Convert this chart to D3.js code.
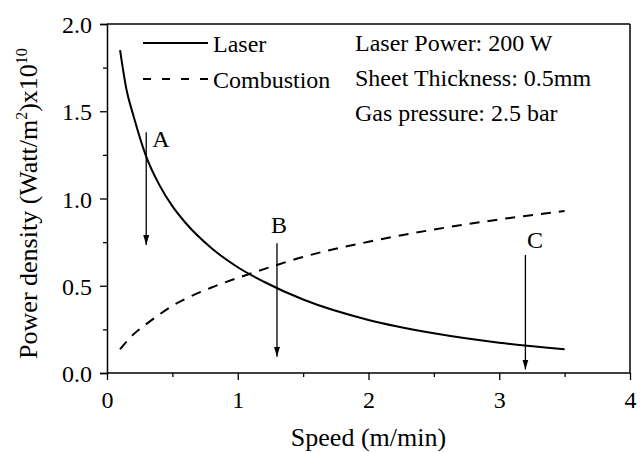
<!DOCTYPE html>
<html><head><meta charset="utf-8">
<script src="https://cdn.jsdelivr.net/npm/d3@7"></script>
<style>
body{margin:0;background:#fff;}
svg text{font-family:"Liberation Serif","Tinos","Times New Roman",Times,"DejaVu Serif","Noto Serif",serif !important;fill:#000;}
</style></head>
<body><svg id="c" width="640" height="452"></svg>
<script>
const speed = [0.1,0.15,0.2,0.3,0.4,0.5,0.6,0.8,1.0,1.2,1.5,2.0,2.5,3.0,3.5];
const laser = [1.85,1.62,1.48,1.24,1.078,0.956,0.861,0.715,0.606,0.523,0.421,0.304,0.228,0.174,0.136];
const combustion = [0.136,0.18,0.22,0.28,0.335,0.385,0.425,0.49,0.545,0.595,0.665,0.752,0.822,0.88,0.928];
const xTicks = [0,1,2,3,4];
const yTicks = [0,0.5,1.0,1.5,2.0];
const arrowLabels = ["A","B","C"];
const arrowX = [0.3,1.3,3.2];
const arrowTop = [1.38,0.743,0.676];
const arrowBottom = [0.733,0.093,0.02];
const labelX = [0.413,1.315,3.274];
const labelY = [1.297,0.801,0.716];
const legendNames = ["Laser","Combustion"];
const infoLines = ["Laser Power: 200 W","Sheet Thickness: 0.5mm","Gas pressure: 2.5 bar"];

const svg = d3.select("#c");
const L=107,R=630,T=24,B=373;
const x = d3.scaleLinear().domain([0,4]).range([L,R]);
const y = d3.scaleLinear().domain([0,2]).range([B,T]);

// frame
svg.append("line").attr("x1",L).attr("x2",R).attr("y1",T).attr("y2",T).attr("stroke","#000").attr("stroke-width",1.5);
svg.append("line").attr("x1",R).attr("x2",R).attr("y1",T).attr("y2",B).attr("stroke","#000").attr("stroke-width",1.5);

// axes
const xAxis = svg.append("g").attr("transform",`translate(0,${B})`)
  .call(d3.axisBottom(x).tickValues(xTicks).tickFormat(d3.format("d")).tickSize(7).tickPadding(11));
const xMinor = svg.append("g").attr("transform",`translate(0,${B})`)
  .call(d3.axisBottom(x).tickValues([0.5,1.5,2.5,3.5]).tickFormat("").tickSize(4));
const yAxis = svg.append("g").attr("transform",`translate(${L},0)`)
  .call(d3.axisLeft(y).tickValues(yTicks).tickFormat(d3.format(".1f")).tickSize(7).tickPadding(8));
const yMinor = svg.append("g").attr("transform",`translate(${L},0)`)
  .call(d3.axisLeft(y).tickValues([0.25,0.75,1.25,1.75]).tickFormat("").tickSize(4));
[xAxis,xMinor,yAxis,yMinor].forEach(g=>{
  g.attr("font-family",null);
  g.selectAll("path").attr("stroke","#000").attr("stroke-width",1.5);
  g.selectAll("line").attr("stroke","#000").attr("stroke-width",1.3);
  g.selectAll("text").attr("font-size",24).attr("fill","#000");
});
xAxis.selectAll("path").remove();
xMinor.selectAll("path").remove();
yMinor.selectAll("path").remove();
svg.append("line").attr("x1",L).attr("x2",R).attr("y1",B).attr("y2",B).attr("stroke","#000").attr("stroke-width",1.5);
yAxis.selectAll("text").attr("dy","0.36em");

// axis titles
svg.append("text").attr("x",(L+R)/2).attr("y",446).attr("text-anchor","middle").attr("font-size",26).text("Speed (m/min)");
const yt = svg.append("text").attr("transform",`translate(37,${(T+B)/2+5}) rotate(-90)`).attr("text-anchor","middle").attr("font-size",26);
yt.append("tspan").text("Power density (Watt/m");
yt.append("tspan").attr("font-size",16).attr("dy",-10).text("2");
yt.append("tspan").attr("dy",10).text(")x10");
yt.append("tspan").attr("font-size",16).attr("dy",-10).text("10");

// curves
const line = d3.line().x(d=>x(d[0])).y(d=>y(d[1])).curve(d3.curveMonotoneX);
svg.append("path").datum(speed.map((s,i)=>[s,laser[i]])).attr("d",line)
  .attr("fill","none").attr("stroke","#000").attr("stroke-width",2);
svg.append("path").datum(speed.map((s,i)=>[s,combustion[i]])).attr("d",line)
  .attr("fill","none").attr("stroke","#000").attr("stroke-width",2).attr("stroke-dasharray","10,8");

// arrows
svg.append("defs").append("marker").attr("id","ah").attr("viewBox","0 0 10 10")
  .attr("refX",10).attr("refY",5).attr("markerWidth",10).attr("markerHeight",10)
  .attr("markerUnits","userSpaceOnUse").attr("orient","auto")
  .append("path").attr("d","M0,2 L10,5 L0,8 Z").attr("fill","#000");
arrowLabels.forEach((lab,i)=>{
  svg.append("line").attr("x1",x(arrowX[i])).attr("x2",x(arrowX[i]))
    .attr("y1",y(arrowTop[i])).attr("y2",y(arrowBottom[i]))
    .attr("stroke","#000").attr("stroke-width",1.3).attr("marker-end","url(#ah)");
  svg.append("text").attr("x",x(labelX[i])).attr("y",y(labelY[i])).attr("text-anchor","middle")
    .attr("font-size",24).text(lab);
});

// legend
legendNames.forEach((n,i)=>{
  const ly = 43 + i*36;
  svg.append("line").attr("x1",143).attr("x2",208).attr("y1",ly).attr("y2",ly)
    .attr("stroke","#000").attr("stroke-width",2).attr("stroke-dasharray", i===1?"8,11":null);
  svg.append("text").attr("x",213).attr("y",ly+9).attr("font-size",24).text(n);
});
infoLines.forEach((t,i)=>{
  svg.append("text").attr("x",355).attr("y",51+i*35).attr("font-size",24).text(t);
});
</script></body></html>
